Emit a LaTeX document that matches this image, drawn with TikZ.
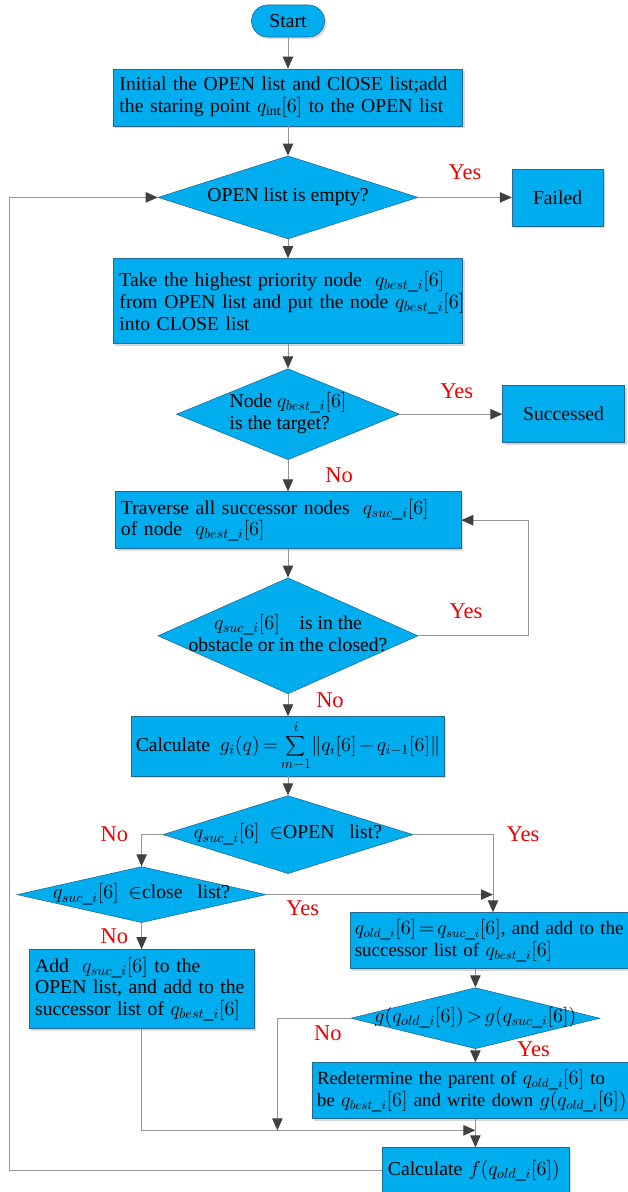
\documentclass[tikz,border=0pt]{standalone}
\usepackage{fontspec}
\setmainfont{Liberation Serif}
\usetikzlibrary{arrows.meta, shapes.geometric, shadows}
\definecolor{boxblue}{RGB}{0,174,239}
\definecolor{boxedge}{RGB}{35,105,145}
\definecolor{linegray}{RGB}{150,150,150}
\definecolor{tipgray}{RGB}{64,64,64}
\definecolor{labelred}{RGB}{240,0,0}
\newcommand{\dlines}[2][c]{\makebox[0pt]{\begin{tabular}{@{}#1@{}}#2\end{tabular}}}
\thickmuskip=2.5mu
\medmuskip=2mu

\begin{document}
\begin{tikzpicture}[
    >={Triangle[length=0.3cm, width=0.26cm, color=tipgray]}, node distance=2.5cm,
    font=\fontsize{14pt}{15.5pt}\selectfont,
    process/.style={rectangle, draw=boxedge, fill=boxblue, text=black, inner xsep=0.15cm, align=left, drop shadow={shadow xshift=0.05cm, shadow yshift=-0.05cm, opacity=0.3}},
    terminal/.style={process, rounded corners=0.4cm, align=center, minimum width=1.825cm, minimum height=0.8cm},
    decision/.style={diamond, draw=boxedge, fill=boxblue, text=black, inner sep=0pt},
    flow/.style={draw=linegray, line width=0.7pt, ->},
    lbl/.style={text=labelred, font=\fontsize{16pt}{18pt}\selectfont}
]
\path[use as bounding box, fill=white] (-7.2,0.525) rectangle (8.475,-29.275);

\node (start) [terminal] at (0,0) {Start};
\node (init) [process, below of=start, yshift=0.59cm, text width=8.425cm, minimum height=1.425cm] {Initial the OPEN list and ClOSE list;add\\ the staring point\ $q_{\mathrm{int}}[6]$\ to the OPEN list};
\node (empty) [decision, below of=init, minimum width=6.5cm, minimum height=2.075cm] {\dlines{OPEN list is empty?}};
\node (failed) [process, right of=empty, xshift=4.24cm, align=center, minimum width=2.275cm, minimum height=1.425cm] {Failed};
\node (take_best) [process, below of=empty, yshift=-0.09cm, text width=8.425cm, minimum height=2.125cm] {Take the highest priority node\ \ $q_{best\_i}[6]$\\ \mbox{from OPEN list and put the node $q_{best\_i}[6]$}\\ into CLOSE list};
\node (is_target) [decision, below of=take_best, yshift=-0.33cm, minimum width=5.575cm, minimum height=2.275cm] {\dlines[l]{Node\ $q_{best\_i}[6]$\\ is the target?}};
\node (succeeded) [process, right of=is_target, xshift=4.39cm, align=center, minimum width=3.05cm, minimum height=1.425cm] {Successed};
\node (traverse) [process, below of=is_target, yshift=-0.15cm, text width=8.35cm, minimum height=1.425cm] {Traverse all successor nodes\ \ $q_{suc\_i}[6]$\\ of node\ \ $q_{best\_i}[6]$};
\node (in_obstacle) [decision, below of=traverse, yshift=-0.39cm, minimum width=6.5cm, minimum height=2.9cm] {\dlines{$q_{suc\_i}[6]$\quad is in the\\ obstacle or in the closed?}};
\node (calc_g) [process, below of=in_obstacle, yshift=-0.26cm, align=center, inner xsep=0.1cm, minimum width=7.525cm, minimum height=1.425cm] {Calculate\ \ $g_i(q)=\displaystyle\sum_{m-1}^{i}\bigl\|q_i[6]-q_{i-1}[6]\bigr\|$};
\node (in_open) [decision, below of=calc_g, yshift=0.29cm, minimum width=6.25cm, minimum height=1.95cm] {\dlines{$q_{suc\_i}[6]$\ \ $\in$OPEN\ \ \ list?}};
\node (in_close) [decision, below of=in_open, yshift=1cm, xshift=-3.66cm, minimum width=6.225cm, minimum height=1.4cm] {\dlines{$q_{suc\_i}[6]$\ \ $\in$close\ \ \ list?}};
\node (add_open) [process, below of=in_close, yshift=0.14cm, text width=5.325cm, minimum height=1.975cm] {Add\ \ $q_{suc\_i}[6]$\ to the\\ OPEN list, and add to the\\ successor list of $q_{best\_i}[6]$};
\node (set_old) [process, below of=in_open, yshift=-0.15cm, xshift=5.125cm, inner xsep=0.12cm, text width=6.91cm, minimum height=1.4cm, font=\fontsize{13.5pt}{15.5pt}\selectfont] {\mbox{$q_{old\_i}[6]=q_{suc\_i}[6]$, and add to the}\\ successor list of\ $q_{best\_i}[6]$};
\node (compare_g) [decision, below of=set_old, yshift=0.56cm, xshift=-0.44cm, minimum width=6.225cm, minimum height=1.525cm] {\dlines{$g(q_{old\_i}[6])>g(q_{suc\_i}[6])$}};
\node (reparent) [process, below of=compare_g, yshift=0.69cm, inner xsep=0.12cm, text width=7.91cm, minimum height=1.4cm, font=\fontsize{13.3pt}{15.5pt}\selectfont] {Redetermine the parent of $q_{old\_i}[6]$ to\\ \mbox{be $q_{best\_i}[6]$ and write down $g(q_{old\_i}[6])$}};
\node (calc_f) [process, below of=reparent, yshift=0.5cm, text width=4.375cm, minimum height=1.15cm] {Calculate $f(q_{old\_i}[6])$};

\coordinate (join_yes) at (in_close.east -| set_old.north);
\coordinate (join_end) at ([yshift=0.425cm]calc_f.north);

\draw[flow] (start) -- (init);
\draw[flow] (init) -- (empty);
\draw[flow] (empty) -- node[lbl, yshift=0.62cm] {Yes} (failed);
\draw[flow] (empty) -- (take_best);
\draw[flow] (take_best) -- (is_target);
\draw[flow] (is_target) -- node[lbl, xshift=0.14cm, yshift=0.58cm] {Yes} (succeeded);
\draw[flow] (is_target) -- node[lbl, xshift=1.28cm] {No} (traverse);
\draw[flow] (traverse) -- (in_obstacle);
\draw[flow] (in_obstacle.east) -- node[lbl, xshift=-0.18cm, yshift=0.62cm] {Yes} ++(2.75,0) |- (traverse.east);
\draw[flow] (in_obstacle) -- node[lbl, xshift=1.05cm, yshift=0.12cm] {No} (calc_g);
\draw[flow] (calc_g) -- (in_open);
\draw[flow] (in_open.west) -| node[lbl, pos=0.5, xshift=-0.68cm] {No} (in_close.north);
\draw[flow] (in_open.east) -| node[lbl, pos=0.5, xshift=0.75cm] {Yes} (set_old.north);
\draw[flow] (in_close.east) -- node[lbl, pos=0.16, yshift=-0.35cm] {Yes} (join_yes);
\draw[flow] (in_close) -- node[lbl, xshift=-0.68cm] {No} (add_open);
\draw[flow] (set_old.south -| compare_g.north) -- (compare_g);
\draw[flow] (compare_g) -- node[lbl, xshift=1.45cm, yshift=0.15cm] {Yes} (reparent);
\draw[flow] (compare_g.west) -| node[lbl, pos=0.155, yshift=-0.38cm] {No} ([xshift=-4.95cm]join_end);
\draw[flow] (add_open.south) |- (join_end);
\draw[flow] (reparent.south -| calc_f.north) -- (calc_f);
\draw[flow] (calc_f.west) -- ++(-9.3,0) |- (empty.west);
\end{tikzpicture}
\end{document}
